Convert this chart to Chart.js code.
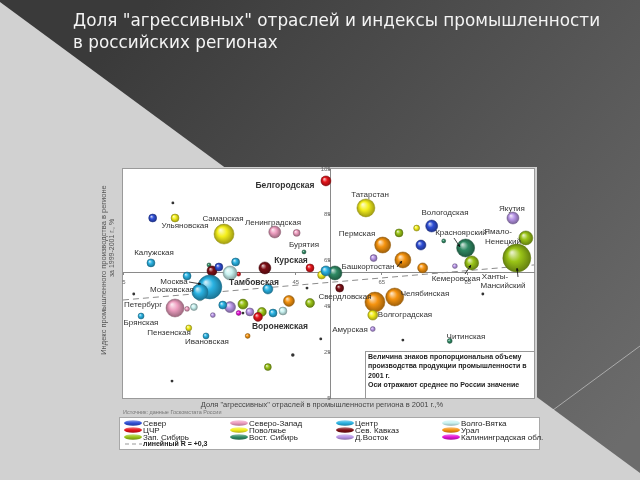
<!DOCTYPE html>
<html>
<head>
<meta charset="utf-8">
<script src="https://cdn.jsdelivr.net/npm/chart.js@4.4.1/dist/chart.umd.min.js"></script>
<style>
  html, body { margin: 0; padding: 0; background: #444; overflow: hidden; }
  canvas { display: block; }
</style>
</head>
<body>
<canvas id="regionsChart" width="640" height="480"></canvas>
<script>
// группы регионов (легенда)
const groups = ['Север', 'Северо-Запад', 'Центр', 'Волго-Вятка', 'ЦЧР', 'Поволжье',
  'Сев. Кавказ', 'Урал', 'Зап. Сибирь', 'Вост. Сибирь', 'Д.Восток', 'Калининградская обл.'];

// точки: [доля "агрессивных" отраслей %, индекс производства %, объем производства]
const sever = [[11.7, 83.6, 16], [27.1, 62.2, 16], [76.6, 80.1, 36], [74.1, 71.8, 25]];
const sevZapad = [[40.1, 77.5, 36], [45.2, 77.1, 12], [16.9, 44.3, 81], [19.7, 43.9, 6]];
const centr = [[11.3, 64.0, 16], [31.0, 64.4, 16], [19.7, 58.3, 16], [25.0, 53.5, 144], [22.7, 51.3, 64],
  [38.5, 52.6, 25], [28.0, 45.6, 16], [39.7, 42.1, 16], [9.0, 40.8, 9], [24.1, 32.1, 9], [52.0, 60.5, 25]];
const volgoVyatka = [[29.7, 59.6, 49], [21.3, 44.7, 12], [42.0, 43.0, 16], [22.7, 48.7, 9]];
const cchr = [[52.0, 99.8, 25], [48.3, 61.8, 16], [31.7, 59.1, 4], [36.2, 40.4, 20]];
const povolzhye = [[16.9, 83.6, 16], [28.3, 76.6, 100], [51.0, 58.7, 16], [20.1, 35.6, 9],
  [61.3, 88.0, 81], [73.1, 79.2, 9], [62.9, 41.2, 25]];
const sevKavkaz = [[37.8, 61.8, 36], [25.5, 60.5, 25], [55.2, 53.0, 16]];
const ural = [[43.4, 47.4, 30], [65.2, 71.8, 64], [69.9, 65.3, 64], [74.5, 61.8, 25],
  [63.4, 46.9, 100], [68.0, 49.1, 81], [33.8, 32.1, 6]];
const zapSibir = [[32.7, 46.0, 25], [37.1, 42.6, 20], [48.3, 46.5, 20], [38.5, 18.5, 12],
  [69.0, 77.1, 16], [85.9, 64.0, 49], [98.5, 74.9, 49], [96.4, 66.1, 196]];
const vostSibir = [[46.9, 68.8, 4], [54.1, 59.6, 49], [79.4, 73.6, 4], [84.5, 70.5, 81], [80.8, 29.9, 6], [24.8, 63.1, 4]];
const dalVostok = [[29.7, 44.7, 30], [34.3, 42.6, 16], [25.7, 41.2, 6], [63.1, 66.1, 12],
  [95.5, 83.6, 36], [82.0, 62.6, 6], [62.9, 35.1, 6]];
const kaliningrad = [[31.7, 42.1, 6]];
// мелкие точки без группы
const others = [[16.4, 90.2, 2], [7.3, 50.4, 2], [32.7, 42.1, 2], [50.8, 30.8, 2], [44.3, 23.8, 3],
  [16.2, 12.4, 2], [47.6, 53.0, 2], [69.9, 30.3, 2], [88.5, 50.4, 2], [24.5, 52.2, 2]];
const groupData = [sever, sevZapad, centr, volgoVyatka, cchr, povolzhye, sevKavkaz, ural, zapSibir, vostSibir, dalVostok, kaliningrad];

// линейный тренд, R = +0,3
const trendX = [4.8, 100.4];
const trendY = [47.8, 63.1];

const xTicks = [5, 25, 45, 65, 85];
const yTicks = [5, 25, 45, 65, 85, 105];
const meanX = 53.1, meanY = 59.8;

const title = ['Доля "агрессивных" отраслей и индексы промышленности', 'в российских регионах'];
const xTitle = 'Доля "агрессивных" отраслей в промышленности региона в 2001 г.,%';
const yTitle = ['Индекс промышленного производства в регионе', 'за 1999-2001 г., %'];
const note = ['Величина знаков пропорциональна объему', 'производства продукции промышленности в', '2001 г.', 'Оси отражают среднее по России значение'];

// подписи регионов: текст, x, y (пиксели), жирный
const regionLabels = [
  ['Белгородская', 285, 186, 1], ['Ульяновская', 185, 226], ['Самарская', 223, 219], ['Ленинградская', 273, 223],
  ['Бурятия', 304, 245], ['Калужская', 154, 253], ['Курская', 291, 261, 1], ['Москва', 174, 282],
  ['Московская', 172, 290], ['Тамбовская', 254, 283, 1], ['Петербург', 143, 305], ['Брянская', 141, 323],
  ['Пензенская', 169, 333], ['Ивановская', 207, 342], ['Воронежская', 280, 327, 1], ['Татарстан', 370, 195],
  ['Вологодская', 445, 213], ['Пермская', 357, 234], ['Красноярский', 461, 233], ['Якутия', 512, 209],
  ['Ямало-', 498, 232], ['Ненецкий', 503, 242], ['Ханты-', 495, 277], ['Мансийский', 503, 286],
  ['Кемеровская', 456, 279], ['Башкортостан', 368, 267], ['Свердловская', 345, 297], ['Челябинская', 425, 294],
  ['Волгоградская', 405, 315], ['Амурская', 350, 330], ['Читинская', 466, 337]
];
const arrows = [[189, 282, 201, 284], [454, 238, 460, 247], [397, 267, 402, 261], [465, 274, 471, 265], [518, 277, 517, 268]];

const groupColors = ['#2f4fd6', '#ee9ec0', '#2ab3e3', '#c9f3f1', '#e5141a', '#f4ef1c',
  '#7d0f16', '#f5930f', '#9ac417', '#2f8a64', '#b996e8', '#e312d6'];

const FONT = '"Liberation Sans", Arial, sans-serif';

function mix(hex, toWhite, t) {
  const n = parseInt(hex.slice(1), 16);
  const m = toWhite ? 255 : 0;
  const ch = v => Math.round(v + (m - v) * t);
  return 'rgb(' + ch((n >> 16) & 255) + ',' + ch((n >> 8) & 255) + ',' + ch(n & 255) + ')';
}

function sphere(c, x, y, r, col) {
  const g = c.createRadialGradient(x - r * 0.35, y - r * 0.4, r * 0.05, x, y, r);
  g.addColorStop(0, mix(col, true, 0.75));
  g.addColorStop(0.45, col);
  g.addColorStop(1, mix(col, false, 0.35));
  return g;
}

const datasets = groupData.map((arr, i) => ({
  label: groups[i],
  data: arr.map(p => ({ x: p[0], y: p[1], r: Math.sqrt(p[2]) })),
  backgroundColor: ctx => {
    const ch = ctx.chart;
    if (ctx.type !== 'data' || !ch.scales.x || !ch.chartArea) return groupColors[i];
    const x = ch.scales.x.getPixelForValue(ctx.raw.x);
    const y = ch.scales.y.getPixelForValue(ctx.raw.y);
    return sphere(ch.ctx, x, y, ctx.raw.r, groupColors[i]);
  },
  borderColor: mix(groupColors[i], false, 0.4),
  borderWidth: 0.5
}));

datasets.push({
  label: 'прочие',
  data: others.map(p => ({ x: p[0], y: p[1], r: Math.sqrt(p[2]) })),
  backgroundColor: '#333',
  borderColor: '#333',
  borderWidth: 0
});

datasets.push({
  type: 'line',
  label: 'линейный R = +0,3',
  data: trendX.map((x, i) => ({ x: x, y: trendY[i] })),
  borderColor: '#8c8c8c',
  borderWidth: 1,
  borderDash: [6, 4],
  pointRadius: 0,
  order: 20
});

// фон слайда, заголовки, легенда, подписи
const slide = {
  id: 'slide',
  beforeDraw(chart) {
    const c = chart.ctx, a = chart.chartArea;
    c.save();
    const g = c.createLinearGradient(150, 0, 640, 420);
    g.addColorStop(0, '#3a3a3a');
    g.addColorStop(1, '#6c6c6c');
    c.fillStyle = g;
    c.fillRect(0, 0, 640, 480);
    c.fillStyle = '#d1d1d1';
    c.beginPath();
    c.moveTo(0, 2); c.lineTo(640, 473); c.lineTo(640, 480); c.lineTo(0, 480);
    c.closePath(); c.fill();
    c.strokeStyle = 'rgba(225,225,225,0.55)';
    c.lineWidth = 1;
    c.beginPath(); c.moveTo(553, 410); c.lineTo(640, 346); c.stroke();
    // подложка рисунка
    c.fillStyle = '#d1d1d1';
    c.fillRect(86, 167, 451, 313);
    // поле графика
    c.fillStyle = '#fff';
    c.fillRect(a.left, a.top, a.right - a.left, a.bottom - a.top);
    c.strokeStyle = '#9a9a9a';
    c.strokeRect(a.left - 0.5, a.top - 0.5, a.right - a.left + 1, a.bottom - a.top + 1);
    // заголовок слайда
    c.fillStyle = '#f4f4f4';
    c.textAlign = 'left';
    c.textBaseline = 'alphabetic';
    c.font = '16px "DejaVu Sans"';
    const size = 16 * 527 / c.measureText(title[0]).width;
    c.font = size.toFixed(2) + 'px "DejaVu Sans"';
    c.fillText(title[0], 73, 26);
    c.fillText(title[1], 73, 48);
    c.restore();
  },
  afterDraw(chart) {
    const c = chart.ctx;
    c.save();
    // подписи осей
    c.fillStyle = '#444';
    c.textAlign = 'center';
    c.textBaseline = 'middle';
    c.font = '7.5px ' + FONT;
    c.fillText(xTitle, 322, 405);
    c.font = '5.5px ' + FONT;
    c.fillStyle = '#777';
    c.textAlign = 'left';
    c.fillText('Источник: данные Госкомстата России', 123, 412);
    c.save();
    c.fillStyle = '#555';
    c.textAlign = 'center';
    c.font = '7.5px ' + FONT;
    c.translate(104, 270); c.rotate(-Math.PI / 2);
    c.fillText(yTitle[0], 0, 0, 186);
    c.font = '7px ' + FONT;
    c.fillText(yTitle[1], 22, 8);
    c.restore();

    // подписи регионов
    c.fillStyle = '#333';
    c.textAlign = 'center';
    regionLabels.forEach(l => {
      c.font = (l[3] ? 'bold 8.5px ' : '8px ') + FONT;
      c.fillText(l[0], l[1], l[2]);
    });
    c.strokeStyle = '#111';
    c.fillStyle = '#111';
    c.lineWidth = 0.8;
    arrows.forEach(ar => {
      const [x1, y1, x2, y2] = ar;
      const ang = Math.atan2(y2 - y1, x2 - x1);
      c.beginPath(); c.moveTo(x1, y1); c.lineTo(x2, y2); c.stroke();
      c.beginPath();
      c.moveTo(x2, y2);
      c.lineTo(x2 - 3 * Math.cos(ang - 0.5), y2 - 3 * Math.sin(ang - 0.5));
      c.lineTo(x2 - 3 * Math.cos(ang + 0.5), y2 - 3 * Math.sin(ang + 0.5));
      c.closePath(); c.fill();
    });

    // пояснение
    c.fillStyle = '#fff';
    c.fillRect(365, 351, 169, 47);
    c.strokeStyle = '#999';
    c.lineWidth = 1;
    c.strokeRect(365.5, 351.5, 169, 47);
    c.fillStyle = '#222';
    c.textAlign = 'left';
    c.font = 'bold 7px ' + FONT;
    note.forEach((t, i) => c.fillText(t, 368, 357 + i * 9.3, 160));

    // легенда
    c.fillStyle = '#fff';
    c.fillRect(119, 417, 420, 32);
    c.strokeStyle = '#a8a8a8';
    c.strokeRect(119.5, 417.5, 420, 32);
    const colX = [124, 230, 336, 442];
    c.font = '8px ' + FONT;
    c.textBaseline = 'middle';
    groups.forEach((name, i) => {
      const x = colX[i % 4], y = 423 + Math.floor(i / 4) * 7;
      const eg = c.createLinearGradient(0, y - 3, 0, y + 3);
      eg.addColorStop(0, mix(groupColors[i], true, 0.5));
      eg.addColorStop(0.5, groupColors[i]);
      eg.addColorStop(1, mix(groupColors[i], false, 0.3));
      c.fillStyle = eg;
      c.beginPath(); c.ellipse(x + 9, y, 9, 2.8, 0, 0, Math.PI * 2); c.fill();
      c.fillStyle = '#222';
      c.fillText(name, x + 19, y + 0.5);
    });
    c.strokeStyle = '#999';
    c.setLineDash([4, 3]);
    c.beginPath(); c.moveTo(125, 444); c.lineTo(142, 444); c.stroke();
    c.setLineDash([]);
    c.fillStyle = '#222';
    c.font = 'bold 7px ' + FONT;
    c.fillText('линейный R = +0,3', 143, 444.5);
    c.restore();
  }
};

const ctx = document.getElementById('regionsChart').getContext('2d');
const regionsChart = new Chart(ctx, {
  type: 'bubble',
  data: { datasets: datasets },
  plugins: [slide],
  options: {
    responsive: false,
    animation: false,
    devicePixelRatio: 1,
    events: [],
    layout: { padding: { left: 123, top: 169, right: 106, bottom: 82 } },
    plugins: { legend: { display: false }, tooltip: { enabled: false } },
    scales: {
      x: {
        type: 'linear',
        min: 4.8,
        max: 100.4,
        position: { y: meanY },
        afterBuildTicks: s => { s.ticks = xTicks.map(v => ({ value: v })); },
        grid: { display: true, drawOnChartArea: false, tickLength: 2, color: '#888' },
        border: { display: true, color: '#8a8a8a', width: 1 },
        ticks: { autoSkip: false, padding: 4, color: '#666', font: { size: 6, family: FONT } }
      },
      y: {
        type: 'linear',
        min: 5,
        max: 105,
        position: { x: meanX },
        afterBuildTicks: s => { s.ticks = yTicks.map(v => ({ value: v })); },
        grid: { display: true, drawOnChartArea: false, tickLength: 2, color: '#888' },
        border: { display: true, color: '#8a8a8a', width: 1 },
        ticks: { autoSkip: false, padding: 3, color: '#666', font: { size: 6, family: FONT } }
      }
    }
  }
});
</script>
</body>
</html>
